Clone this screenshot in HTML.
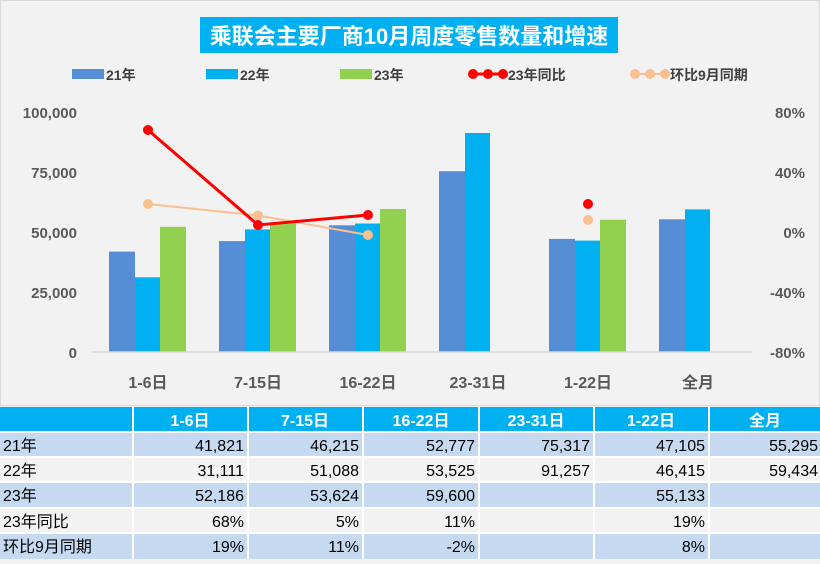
<!DOCTYPE html>
<html><head><meta charset="utf-8"><style>
body{margin:0;width:820px;height:559px;overflow:hidden;background:#f2f2f2;font-family:"Liberation Sans","Noto Sans CJK SC",sans-serif}
svg text{font-family:"Liberation Sans","Noto Sans CJK SC",sans-serif}
</style></head><body>
<svg width="820" height="559" viewBox="0 0 820 559" xmlns="http://www.w3.org/2000/svg">
<rect x="0" y="0" width="820" height="559" fill="#f2f2f2"/>
<rect x="0.5" y="0.5" width="819" height="405" fill="none" stroke="#d9d9d9"/>
<rect x="200" y="17" width="418" height="36" fill="#00b0f0"/>
<text x="409" y="44" text-anchor="middle" font-size="22" font-weight="bold" fill="#fff">乘联会主要厂商10月周度零售数量和增速</text>
<g font-size="14" font-weight="bold" fill="#404040">
<rect x="72" y="69" width="32" height="10" fill="#558ed5"/><text x="106" y="80">21年</text>
<rect x="206" y="69" width="32" height="10" fill="#00b0f0"/><text x="240" y="80">22年</text>
<rect x="340" y="69" width="32" height="10" fill="#92d050"/><text x="374" y="80">23年</text>
<line x1="470" y1="74" x2="506" y2="74" stroke="#ff0000" stroke-width="3"/>
<circle cx="473" cy="74" r="5" fill="#f00"/><circle cx="488" cy="74" r="5" fill="#f00"/><circle cx="503" cy="74" r="5" fill="#f00"/>
<text x="508" y="80">23年同比</text>
<line x1="632" y1="74" x2="668" y2="74" stroke="#fac090" stroke-width="2"/>
<circle cx="635" cy="74" r="5" fill="#fac090"/><circle cx="650" cy="74" r="5" fill="#fac090"/><circle cx="665" cy="74" r="5" fill="#fac090"/>
<text x="670" y="80">环比9月同期</text>
</g>
<g font-size="15" font-weight="bold" fill="#595959" text-anchor="end">
<text x="77" y="118">100,000</text><text x="77" y="178">75,000</text><text x="77" y="238">50,000</text><text x="77" y="298">25,000</text><text x="77" y="358">0</text>
</g>
<g font-size="15" font-weight="bold" fill="#595959" text-anchor="end">
<text x="805" y="118">80%</text><text x="805" y="178">40%</text><text x="805" y="238">0%</text><text x="805" y="298">-40%</text><text x="805" y="358">-80%</text>
</g>
<g>
<rect x="109" y="251.6" width="26" height="100.4" fill="#558ed5"/>
<rect x="135" y="277.3" width="25" height="74.7" fill="#00b0f0"/>
<rect x="160" y="226.8" width="26" height="125.2" fill="#92d050"/>
<rect x="219" y="241.1" width="26" height="110.9" fill="#558ed5"/>
<rect x="245" y="229.4" width="25" height="122.6" fill="#00b0f0"/>
<rect x="270" y="223.3" width="26" height="128.7" fill="#92d050"/>
<rect x="329" y="225.3" width="26" height="126.7" fill="#558ed5"/>
<rect x="355" y="223.5" width="25" height="128.5" fill="#00b0f0"/>
<rect x="380" y="209" width="26" height="143" fill="#92d050"/>
<rect x="439" y="171.2" width="26" height="180.8" fill="#558ed5"/>
<rect x="465" y="133" width="25" height="219" fill="#00b0f0"/>
<rect x="549" y="238.9" width="26" height="113.1" fill="#558ed5"/>
<rect x="575" y="240.6" width="25" height="111.4" fill="#00b0f0"/>
<rect x="600" y="219.7" width="26" height="132.3" fill="#92d050"/>
<rect x="659" y="219.3" width="26" height="132.7" fill="#558ed5"/>
<rect x="685" y="209.4" width="25" height="142.6" fill="#00b0f0"/>
</g>
<line x1="92" y1="352" x2="752" y2="352" stroke="#d9d9d9" stroke-width="1.5"/>
<polyline points="148,204 258,215.5 368,235" fill="none" stroke="#fac090" stroke-width="2"/>
<g fill="#fac090"><circle cx="148" cy="204" r="5"/><circle cx="258" cy="215.5" r="5"/><circle cx="368" cy="235" r="5"/><circle cx="588" cy="220" r="5"/></g>
<polyline points="148,130 258,225 368,215" fill="none" stroke="#ff0000" stroke-width="3"/>
<g fill="#ff0000"><circle cx="148" cy="130" r="5"/><circle cx="258" cy="225" r="5"/><circle cx="368" cy="215" r="5"/><circle cx="588" cy="204" r="5"/></g>
<g font-size="16" font-weight="bold" fill="#595959" text-anchor="middle">
<text x="148" y="388">1-6日</text><text x="258" y="388">7-15日</text><text x="368" y="388">16-22日</text><text x="478" y="388">23-31日</text><text x="588" y="388">1-22日</text><text x="698" y="388">全月</text>
</g>
<!-- table -->
<rect x="0" y="407" width="820" height="25" fill="#00b0f0"/>
<rect x="0" y="432" width="820" height="25" fill="#c5d9f1"/>
<rect x="0" y="457" width="820" height="25" fill="#f2f2f2"/>
<rect x="0" y="482" width="820" height="26" fill="#c5d9f1"/>
<rect x="0" y="508" width="820" height="25" fill="#f2f2f2"/>
<rect x="0" y="533" width="820" height="26" fill="#c5d9f1"/>
<g stroke="#ffffff" stroke-width="2">
<line x1="0" y1="432" x2="820" y2="432"/><line x1="0" y1="457" x2="820" y2="457"/><line x1="0" y1="482" x2="820" y2="482"/><line x1="0" y1="508" x2="820" y2="508"/><line x1="0" y1="533" x2="820" y2="533"/>
<line x1="133" y1="407" x2="133" y2="559"/><line x1="248" y1="407" x2="248" y2="559"/><line x1="363" y1="407" x2="363" y2="559"/><line x1="479" y1="407" x2="479" y2="559"/><line x1="594" y1="407" x2="594" y2="559"/><line x1="709" y1="407" x2="709" y2="559"/>
</g>
<g font-size="16" font-weight="bold" fill="#fff" text-anchor="middle">
<text x="190" y="426">1-6日</text><text x="305" y="426">7-15日</text><text x="421" y="426">16-22日</text><text x="536" y="426">23-31日</text><text x="651" y="426">1-22日</text><text x="765" y="426">全月</text>
</g>
<g font-size="16" fill="#000">
<text x="3" y="451">21年</text><text x="3" y="476">22年</text><text x="3" y="501">23年</text><text x="3" y="527">23年同比</text><text x="3" y="552">环比9月同期</text>
</g>
<g font-size="16" fill="#000" text-anchor="end">
<text x="244" y="451">41,821</text><text x="359" y="451">46,215</text><text x="475" y="451">52,777</text><text x="590" y="451">75,317</text><text x="705" y="451">47,105</text><text x="818" y="451">55,295</text>
<text x="244" y="476">31,111</text><text x="359" y="476">51,088</text><text x="475" y="476">53,525</text><text x="590" y="476">91,257</text><text x="705" y="476">46,415</text><text x="818" y="476">59,434</text>
<text x="244" y="501">52,186</text><text x="359" y="501">53,624</text><text x="475" y="501">59,600</text><text x="705" y="501">55,133</text>
<text x="244" y="527">68%</text><text x="359" y="527">5%</text><text x="475" y="527">11%</text><text x="705" y="527">19%</text>
<text x="244" y="552">19%</text><text x="359" y="552">11%</text><text x="475" y="552">-2%</text><text x="705" y="552">8%</text>
</g>
</svg>
</body></html>
